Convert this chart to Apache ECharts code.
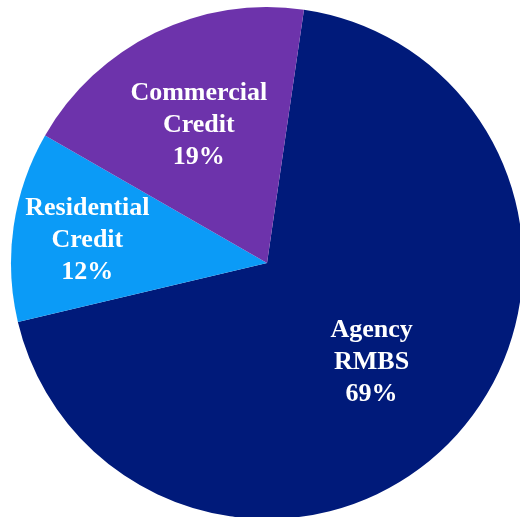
<!DOCTYPE html>
<html>
<head>
<meta charset="utf-8">
<script src="https://cdn.jsdelivr.net/npm/echarts@6/dist/echarts.min.js"></script>
<style>
html,body{margin:0;padding:0;background:#fff;}
#chart{width:520px;height:517px;}
</style>
</head>
<body>
<div id="chart"></div>
<script>
var categories = ['Agency\nRMBS', 'Residential\nCredit', 'Commercial\nCredit'];
var values = [69, 12, 19];
var colors = ['#001A7A', '#0B9BF7', '#6D33AB'];
var labelOffsets = [[8, 11], [-50, -4], [-11, -20]];

var chart = echarts.init(document.getElementById('chart'));
var data = categories.map(function (c, i) {
  return {
    name: c,
    value: values[i],
    itemStyle: { color: colors[i] },
    label: { offset: labelOffsets[i] }
  };
});
chart.setOption({
  animation: false,
  series: [{
    type: 'pie',
    center: [267, 263],
    radius: [0, 256],
    startAngle: 81.7,
    clockwise: true,
    data: data,
    itemStyle: { borderWidth: 0 },
    emphasis: { disabled: true },
    label: {
      show: true,
      position: 'inside',
      color: '#ffffff',
      fontFamily: '"Liberation Serif", "Times New Roman", serif',
      fontWeight: 'bold',
      fontSize: 26,
      lineHeight: 32,
      align: 'center',
      formatter: function (p) { return p.name + '\n' + p.value + '%'; }
    },
    labelLine: { show: false }
  }]
});
</script>
</body>
</html>
